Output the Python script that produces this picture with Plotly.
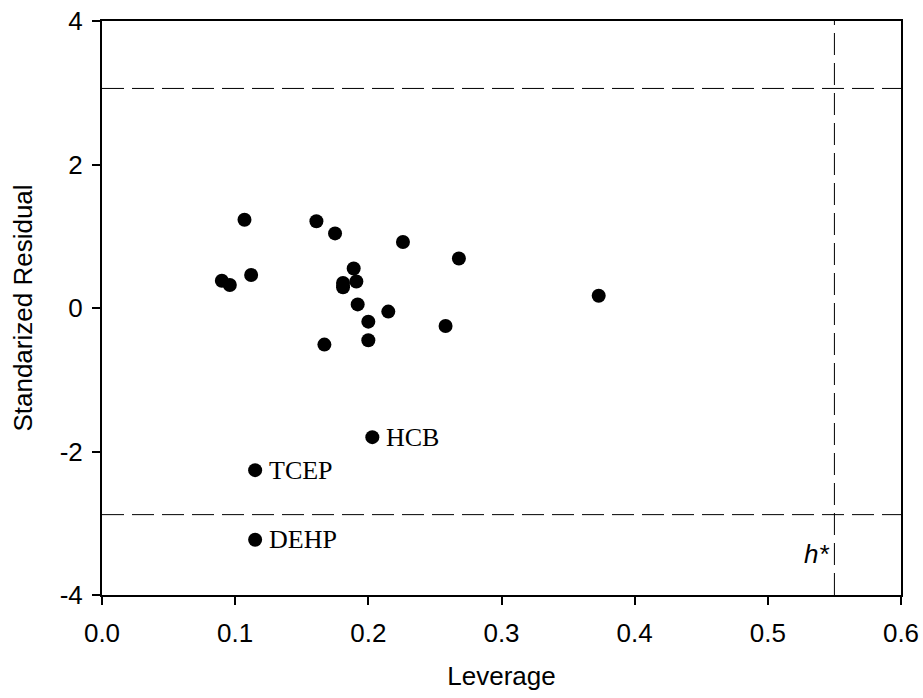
import plotly.graph_objects as go

# Leverage (hat values) and standardized residuals of the compounds
leverage = [0.107, 0.161, 0.175, 0.226, 0.268, 0.189, 0.090, 0.096, 0.112,
            0.181, 0.181, 0.191, 0.192, 0.215, 0.200, 0.258, 0.200, 0.167,
            0.373, 0.203, 0.115, 0.115]
std_residual = [1.23, 1.21, 1.04, 0.92, 0.69, 0.55, 0.38, 0.32, 0.46,
                0.35, 0.29, 0.37, 0.05, -0.05, -0.19, -0.25, -0.45, -0.51,
                0.17, -1.80, -2.26, -3.23]

# Labelled outliers
outlier_names = ["HCB", "TCEP", "DEHP"]
outlier_lev = [0.203, 0.115, 0.115]
outlier_res = [-1.80, -2.26, -3.23]

# Warning leverage and residual limits
h_star = 0.55
res_upper = 3.06
res_lower = -2.88

x_ticks = [0.0, 0.1, 0.2, 0.3, 0.4, 0.5, 0.6]
x_labels = ["0.0", "0.1", "0.2", "0.3", "0.4", "0.5", "0.6"]
y_ticks = [-4, -2, 0, 2, 4]
y_labels = ["-4", "-2", "0", "2", "4"]

sans = "Liberation Sans, Arial, sans-serif"
serif = "Liberation Serif, Times New Roman, serif"
FS = 26

fig = go.Figure()
fig.add_trace(go.Scatter(
    x=leverage, y=std_residual, mode="markers",
    marker=dict(color="black", size=14, line=dict(width=0)),
    showlegend=False, hoverinfo="x+y",
))

dash = "22px,8px"
for yv in (res_upper, res_lower):
    fig.add_shape(type="line", xref="paper", x0=0, x1=1, yref="y", y0=yv, y1=yv,
                  line=dict(color="black", width=1, dash=dash))
fig.add_shape(type="line", xref="x", x0=h_star, x1=h_star, yref="paper", y0=0, y1=1,
              line=dict(color="black", width=1, dash=dash))

for name, xv, yv in zip(outlier_names, outlier_lev, outlier_res):
    fig.add_annotation(x=xv, y=yv, text=name, showarrow=False, xanchor="left",
                       yanchor="middle", xshift=12,
                       font=dict(family=serif, size=FS, color="black"))

fig.add_annotation(x=h_star, y=-3.43, text="<i>h*</i>", showarrow=False,
                   xanchor="right", yanchor="middle", xshift=-3,
                   font=dict(family=sans, size=FS, color="black"))

axis_common = dict(
    showline=True, linecolor="black", linewidth=2, mirror=True,
    ticks="outside", ticklen=8, tickwidth=1.5, tickcolor="black",
    showgrid=False, zeroline=False, automargin=False,
    tickfont=dict(family=sans, size=FS, color="black"),
)

fig.update_xaxes(range=[0, 0.6], tickvals=x_ticks, ticktext=x_labels,
                 ticklabelstandoff=6,
                 title=dict(text="Leverage", font=dict(family=sans, size=FS, color="black"),
                            standoff=20),
                 **axis_common)
fig.update_yaxes(range=[-4, 4], tickvals=y_ticks, ticktext=y_labels,
                 ticklabelstandoff=4,
                 title=dict(text="Standarized Residual",
                            font=dict(family=sans, size=FS, color="black"), standoff=20),
                 **axis_common)

fig.update_layout(
    width=923, height=698,
    margin=dict(l=102, r=22, t=21, b=103),
    paper_bgcolor="white", plot_bgcolor="white",
)

fig.write_html("out.html")
